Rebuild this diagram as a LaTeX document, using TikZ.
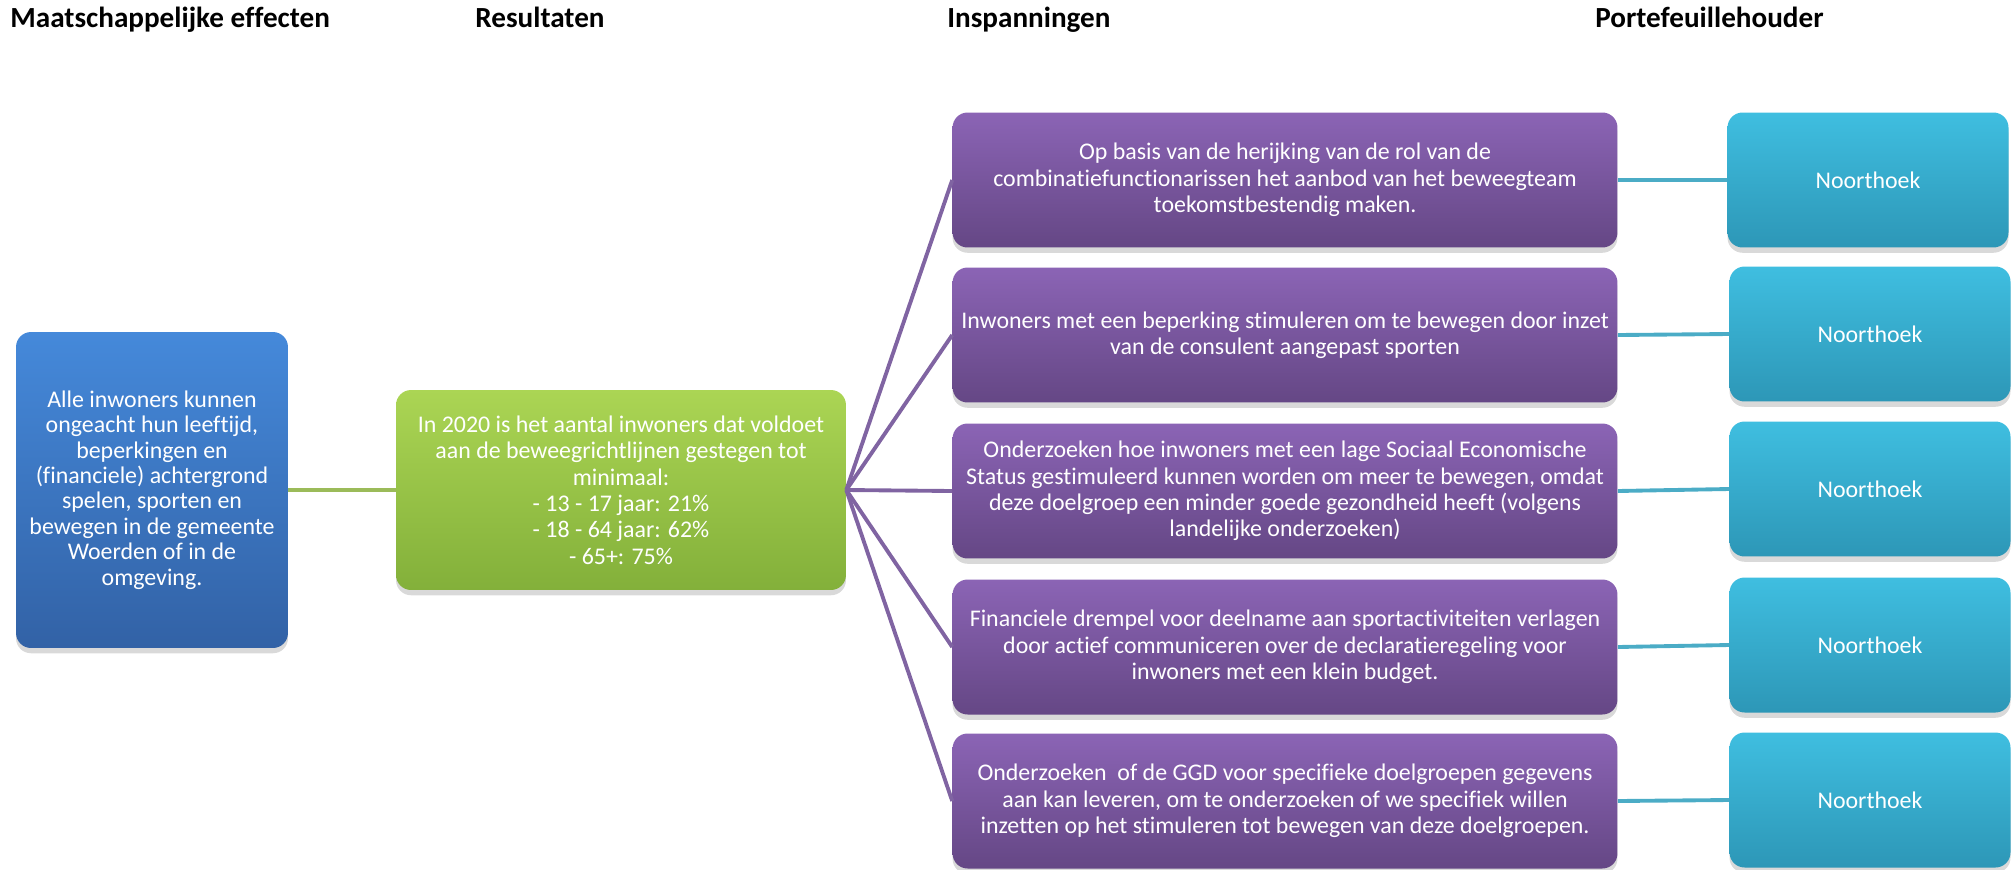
\documentclass[tikz,border=0pt]{standalone}
\usepackage{fontspec}
\setmainfont{Carlito}[Ligatures=NoCommon]
\usepackage{xcolor}
\usepackage{tikz}
\usetikzlibrary{shadows}
\definecolor{blueTop}{HTML}{4589DA}
\definecolor{blueBot}{HTML}{3262A6}
\definecolor{greenTop}{HTML}{ABD554}
\definecolor{greenBot}{HTML}{83B03A}
\definecolor{purpleTop}{HTML}{8B64B5}
\definecolor{purpleBot}{HTML}{654785}
\definecolor{tealTop}{HTML}{3FBEE0}
\definecolor{tealBot}{HTML}{2D97B7}
\definecolor{greenLine}{HTML}{9BBB59}
\definecolor{purpleLine}{HTML}{8064A2}
\definecolor{tealLine}{HTML}{4BACC6}
\tikzset{
  box/.style={rounded corners=0.3cm, inner sep=0pt, align=center, text=white,
    font=\fontsize{13.6}{15}\selectfont,
    drop shadow={shadow xshift=0pt, shadow yshift=-3pt, opacity=0.3}},
  effectbox/.style={box, top color=blueTop, bottom color=blueBot,
    minimum width=5.44cm, minimum height=6.32cm,
    font=\fontsize{13.6}{14.45}\selectfont},
  resultbox/.style={box, top color=greenTop, bottom color=greenBot,
    minimum width=9.0cm, minimum height=4.0cm},
  effortbox/.style={box, top color=purpleTop, bottom color=purpleBot,
    minimum width=13.3cm, minimum height=2.7cm},
  ownerbox/.style={box, top color=tealTop, bottom color=tealBot,
    minimum width=5.62cm, minimum height=2.7cm},
  head/.style={anchor=base west, inner sep=0pt, font=\bfseries\fontsize{16.6}{19}\selectfont},
  gline/.style={draw=greenLine, line width=2.2pt},
  pline/.style={draw=purpleLine, line width=2.2pt},
  tline/.style={draw=tealLine, line width=2.2pt},
}
\begin{document}
\begin{tikzpicture}[x=0.02cm, y=-0.02cm]
  \useasboundingbox (0,0) rectangle (2013,869);
  % column headings
  \node[head] (hEffect) at (10,27) {Maatschappelijke effecten};
  \node[head] (hResult) at (475,27) {Resultaten};
  \node[head] (hEffort) at (947,27) {Inspanningen};
  \node[head] (hOwner) at (1595,27) {Portefeuillehouder};

  % boxes
  \node[effectbox] (effect) at (152,490) {Alle inwoners kunnen\\ongeacht hun leeftijd,\\beperkingen en\\(financiele) achtergrond\\spelen, sporten en\\bewegen in de gemeente\\Woerden of in de\\omgeving.};
  \node[resultbox] (result) at (621,490) {In 2020 is het aantal inwoners dat voldoet\\aan de beweegrichtlijnen gestegen tot\\minimaal:\\- 13 - 17 jaar: 21\%\\- 18 - 64 jaar: 62\%\\- 65+: 75\%};

  \node[effortbox] (effort1) at (1285,180) {Op basis van de herijking van de rol van de\\combinatiefunctionarissen het aanbod van het beweegteam\\toekomstbestendig maken.};
  \node[effortbox] (effort2) at (1285,335) {Inwoners met een beperking stimuleren om te bewegen door inzet\\van de consulent aangepast sporten};
  \node[effortbox] (effort3) at (1285,491) {Onderzoeken hoe inwoners met een lage Sociaal Economische\\Status gestimuleerd kunnen worden om meer te bewegen, omdat\\deze doelgroep een minder goede gezondheid heeft (volgens\\landelijke onderzoeken)};
  \node[effortbox] (effort4) at (1285,647) {Financiele drempel voor deelname aan sportactiviteiten verlagen\\door actief communiceren over de declaratieregeling voor\\inwoners met een klein budget.};
  \node[effortbox] (effort5) at (1285,801) {Onderzoeken\ \ of de GGD voor specifieke doelgroepen gegevens\\aan kan leveren, om te onderzoeken of we specifiek willen\\inzetten op het stimuleren tot bewegen van deze doelgroepen.};

  \node[ownerbox] (owner1) at (1868,180) {Noorthoek};
  \node[ownerbox] (owner2) at (1870,334) {Noorthoek};
  \node[ownerbox] (owner3) at (1870,489) {Noorthoek};
  \node[ownerbox] (owner4) at (1870,645) {Noorthoek};
  \node[ownerbox] (owner5) at (1870,800) {Noorthoek};

  % connectors
  \draw[gline] (effect.east) -- (result.west);
  \draw[pline] (result.east) -- (effort1.west);
  \draw[pline] (result.east) -- (effort2.west);
  \draw[pline] (result.east) -- (effort3.west);
  \draw[pline] (result.east) -- (effort4.west);
  \draw[pline] (result.east) -- (effort5.west);
  \draw[tline] (effort1.east) -- (owner1.west);
  \draw[tline] (effort2.east) -- (owner2.west);
  \draw[tline] (effort3.east) -- (owner3.west);
  \draw[tline] (effort4.east) -- (owner4.west);
  \draw[tline] (effort5.east) -- (owner5.west);
\end{tikzpicture}
\end{document}
